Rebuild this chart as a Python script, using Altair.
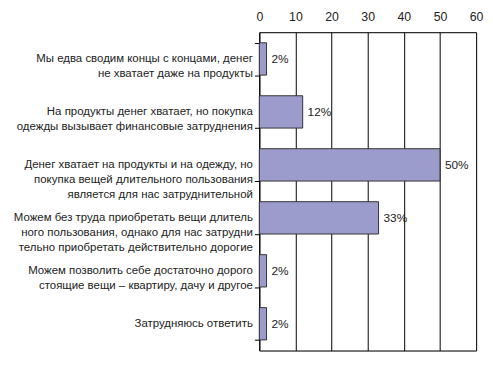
import altair as alt
import pandas as pd

categories = [
    "Мы едва сводим концы с концами, денег|не хватает даже на продукты",
    "На продукты денег хватает, но покупка|одежды вызывает финансовые затруднения",
    "Денег хватает на продукты и на одежду, но|покупка вещей длительного пользования|является для нас затруднительной",
    "Можем без труда приобретать вещи длитель|ного пользования, однако для нас затрудни|тельно приобретать действительно дорогие",
    "Можем позволить себе достаточно дорого|стоящие вещи – квартиру, дачу и другое",
    "Затрудняюсь ответить",
]
values = [2, 12, 50, 33, 2, 2]
labels = ["2%", "12%", "50%", "33%", "2%", "2%"]

df = pd.DataFrame({"cat": categories, "val": values, "lab": labels})

FONT = "Liberation Sans"

y_axis = alt.Axis(
    labelExpr="split(datum.label, '|')",
    tickBand="extent",
    tickSize=5,
    tickColor="black",
    domainColor="black",
    labelFont=FONT,
    labelFontSize=11.6,
    labelLineHeight=15,
    labelColor="#222",
    labelPadding=2,
    labelLimit=300,
    title=None,
)
y_scale = alt.Scale(paddingInner=0.39, paddingOuter=0.2)

bars = alt.Chart(df).mark_bar(
    color="#9c9ccc", stroke="#333", strokeWidth=1
).encode(
    x=alt.X(
        "val:Q",
        scale=alt.Scale(domain=[0, 60]),
        title=None,
        axis=alt.Axis(
            orient="top",
            values=[0, 10, 20, 30, 40, 50, 60],
            grid=True,
            gridColor="black",
            gridOpacity=1,
            ticks=False,
            domain=True,
            domainColor="black",
            labelFlush=False,
            labelFont=FONT,
            labelFontSize=12.5,
            labelColor="#222",
            labelPadding=9,
        ),
    ),
    y=alt.Y("cat:N", sort=categories, scale=y_scale, axis=y_axis),
)

text = alt.Chart(df).mark_text(
    align="left", baseline="middle", dx=5, font=FONT, fontSize=12, color="#222"
).encode(
    x=alt.X(
        "val:Q",
        scale=alt.Scale(domain=[0, 60]),
        axis=alt.Axis(
            orient="bottom", labels=False, ticks=False, grid=False,
            domain=True, domainColor="black", title=None,
        ),
    ),
    y=alt.Y("cat:N", sort=categories, scale=y_scale, axis=y_axis),
    text="lab:N",
)

chart = alt.layer(bars, text).properties(
    width=220,
    height=323,
    autosize=alt.AutoSizeParams(type="none"),
    padding={"left": 255, "top": 22, "right": 9, "bottom": 3},
).configure_view(stroke=None).configure(background="white")

chart.save("out.html", embed_options={"renderer": "svg", "actions": False})
